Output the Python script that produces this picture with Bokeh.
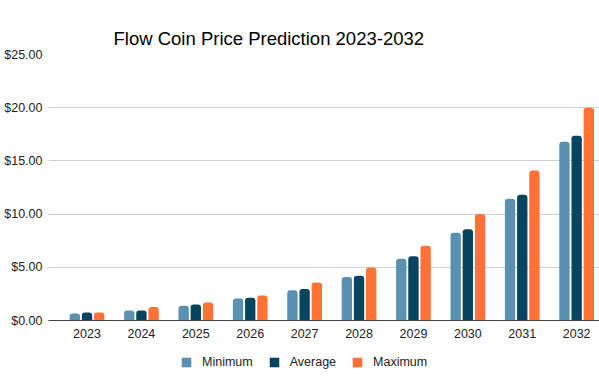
from bokeh.plotting import figure
from bokeh.models import (Range1d, FixedTicker, NumeralTickFormatter, Legend, LegendItem,
                          ColumnDataSource, LinearAxis, Title)
from bokeh.layouts import column
from bokeh.transform import dodge
from bokeh.embed import file_html
from bokeh.resources import INLINE

years = [2023, 2024, 2025, 2026, 2027, 2028, 2029, 2030, 2031, 2032]
minimum = [0.66, 0.94, 1.38, 2.06, 2.85, 4.1, 5.8, 8.24, 11.44, 16.8]
average = [0.75, 0.94, 1.5, 2.14, 2.97, 4.2, 6.05, 8.58, 11.81, 17.36]
maximum = [0.75, 1.28, 1.69, 2.35, 3.56, 4.98, 7.02, 10.0, 14.1, 20.0]
series = ["Minimum", "Average", "Maximum"]
colors = ["#5b91b0", "#07445f", "#ff7135"]
yticks = [0, 5, 10, 15, 20, 25]
title_text = "Flow Coin Price Prediction 2023-2032"

src = ColumnDataSource(dict(year=years, Minimum=minimum, Average=average, Maximum=maximum))
offsets = [-0.224, 0.0, 0.224]

p = figure(width=599, height=340, output_backend="svg", toolbar_location=None,
           x_range=Range1d(2022.292, 2032.42), y_range=Range1d(0, 25),
           min_border_left=48, min_border_right=0, min_border_top=54, min_border_bottom=20)

# title first, then an empty spacer between the title and the plot area
title = Title(text=title_text, text_font="Liberation Sans", text_font_size="18.5px",
              text_font_style="normal", text_color="#000000", align="left",
              offset=65, standoff=12)
p.add_layout(title, "above")
spacer = LinearAxis(ticker=FixedTicker(ticks=[]), axis_line_color=None,
                    major_tick_line_color=None, minor_tick_line_color=None,
                    major_tick_in=0, major_tick_out=18, minor_tick_out=0)
p.add_layout(spacer, "above")

for s, c, o in zip(series, colors, offsets):
    p.vbar(x=dodge("year", o, range=p.x_range), top=s, width=0.19, bottom=0,
           source=src, fill_color=c, line_color=None, border_radius=(3, 3, 0, 0))

p.outline_line_color = None
p.background_fill_color = "white"
p.border_fill_color = "white"

p.xgrid.visible = False
p.ygrid.grid_line_color = "#d0d0d0"
p.ygrid.grid_line_width = 1

p.yaxis.ticker = FixedTicker(ticks=yticks)
p.yaxis.formatter = NumeralTickFormatter(format="$0.00")
p.yaxis.axis_line_color = None
p.yaxis.major_tick_line_color = None
p.yaxis.minor_tick_line_color = None
p.yaxis.major_tick_out = 0
p.yaxis.major_tick_in = 0
p.yaxis.major_label_standoff = 6
p.yaxis.major_label_text_font = "Liberation Sans"
p.yaxis.major_label_text_font_size = "12.5px"
p.yaxis.major_label_text_color = "#222222"

xa = p.below[0]
xa.ticker = FixedTicker(ticks=years)
xa.axis_line_color = "#444444"
xa.axis_line_width = 1
xa.major_tick_line_color = None
xa.minor_tick_line_color = None
xa.major_tick_out = 0
xa.major_tick_in = 0
xa.major_label_standoff = 8
xa.major_label_text_font = "Liberation Sans"
xa.major_label_text_font_size = "12.5px"
xa.major_label_text_color = "#222222"

# legend strip below the chart (its bars fall outside its own range, only the keys show)
lf = figure(width=599, height=37, output_backend="svg", toolbar_location=None,
            x_range=p.x_range, y_range=Range1d(100, 101),
            x_axis_location=None, y_axis_location=None,
            min_border_left=0, min_border_right=0, min_border_top=0, min_border_bottom=0)
lf.grid.visible = False
lf.outline_line_color = None
lf.border_fill_color = "white"
lrs = []
for s, c, o in zip(series, colors, offsets):
    r = lf.vbar(x=dodge("year", o, range=lf.x_range), top=s, width=0.19, bottom=0,
                source=src, fill_color=c, line_color=None)
    lrs.append(r)

legend = Legend(items=[LegendItem(label=s, renderers=[r]) for s, r in zip(series, lrs)],
                orientation="horizontal", location=(132, 8),
                glyph_width=12, glyph_height=12, label_standoff=10, spacing=15,
                padding=0, margin=0, border_line_color=None, background_fill_alpha=0,
                label_text_font="Liberation Sans", label_text_font_size="12.5px",
                label_text_color="#222222")
lf.add_layout(legend, "center")

layout = column(p, lf, spacing=0)
open("out.html", "w").write(file_html(layout, INLINE))
